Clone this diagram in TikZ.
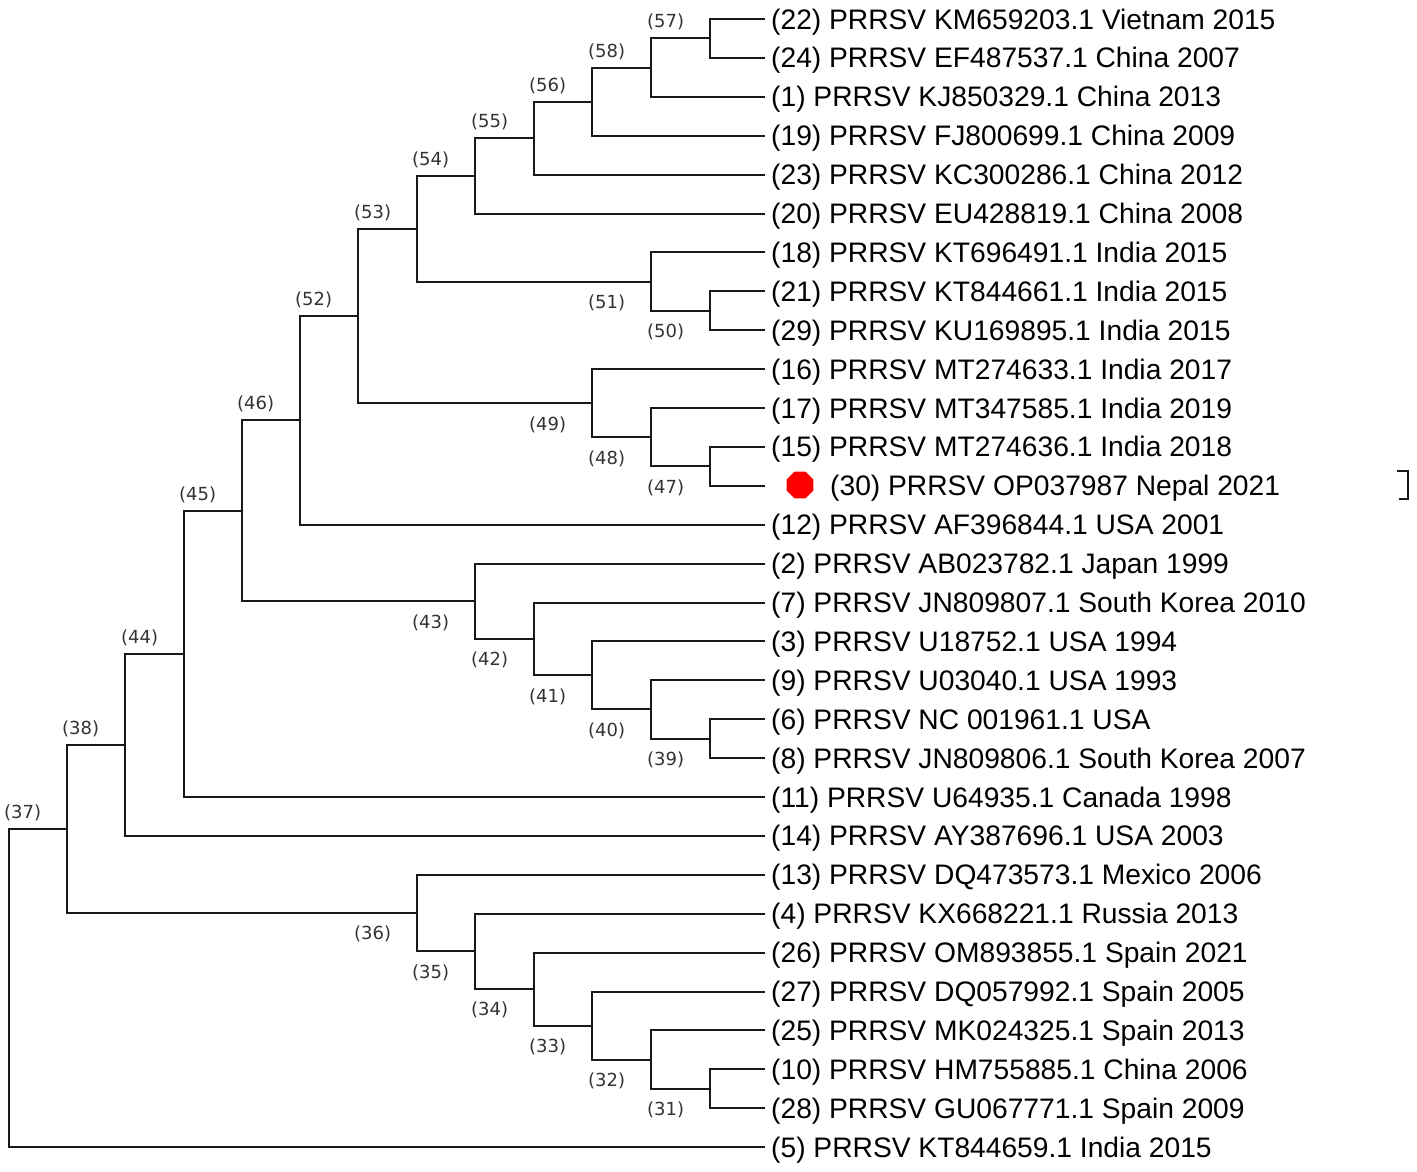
\documentclass[tikz,border=0pt]{standalone}
\usepackage{fontspec}
\setmainfont{Liberation Sans}
\newfontfamily\lblfont{DejaVu Sans}
\usetikzlibrary{shapes.geometric}
\begin{document}
\begin{tikzpicture}[x=1pt,y=-1pt,
  branch/.style={line width=2pt, draw=black!90, line join=miter},
  leaf/.style={anchor=west, inner xsep=6pt, inner ysep=0pt, text height=20pt, text depth=0pt, font=\fontsize{28.2}{30}\selectfont},
  clab/.style={inner sep=0pt, font=\lblfont\fontsize{18}{20}\selectfont, text=black!80},
  up/.style={clab, anchor=south west, xshift=-63pt, yshift=8pt},
  dn/.style={clab, anchor=north west, xshift=-63pt, yshift=-13pt}]
\useasboundingbox (0,0) rectangle (1417,1171);
% leaves
\foreach \i/\t in {
  1/{(22) PRRSV KM659203.1 Vietnam 2015},
  2/{(24) PRRSV EF487537.1 China 2007},
  3/{(1) PRRSV KJ850329.1 China 2013},
  4/{(19) PRRSV FJ800699.1 China 2009},
  5/{(23) PRRSV KC300286.1 China 2012},
  6/{(20) PRRSV EU428819.1 China 2008},
  7/{(18) PRRSV KT696491.1 India 2015},
  8/{(21) PRRSV KT844661.1 India 2015},
  9/{(29) PRRSV KU169895.1 India 2015},
  10/{(16) PRRSV MT274633.1 India 2017},
  11/{(17) PRRSV MT347585.1 India 2019},
  12/{(15) PRRSV MT274636.1 India 2018},
  14/{(12) PRRSV AF396844.1 USA 2001},
  15/{(2) PRRSV AB023782.1 Japan 1999},
  16/{(7) PRRSV JN809807.1 South Korea 2010},
  17/{(3) PRRSV U18752.1 USA 1994},
  18/{(9) PRRSV U03040.1 USA 1993},
  19/{(6) PRRSV NC 001961.1 USA},
  20/{(8) PRRSV JN809806.1 South Korea 2007},
  21/{(11) PRRSV U64935.1 Canada 1998},
  22/{(14) PRRSV AY387696.1 USA 2003},
  23/{(13) PRRSV DQ473573.1 Mexico 2006},
  24/{(4) PRRSV KX668221.1 Russia 2013},
  25/{(26) PRRSV OM893855.1 Spain 2021},
  26/{(27) PRRSV DQ057992.1 Spain 2005},
  27/{(25) PRRSV MK024325.1 Spain 2013},
  28/{(10) PRRSV HM755885.1 China 2006},
  29/{(28) PRRSV GU067771.1 Spain 2009},
  30/{(5) PRRSV KT844659.1 India 2015}}
  \node[leaf] (t\i) at (765,{19+(\i-1)*38.9}) {\t};
\coordinate (e13) at (765,485.8);
\node[regular polygon, regular polygon sides=8, fill=red, draw=none, minimum size=29pt, inner sep=0pt] (dot) at (800,485) {};
\node[leaf] (t13) at (824,485.8) {(30) PRRSV OP037987 Nepal 2021};
% internal nodes
\coordinate (n57) at (710,38.45);
\coordinate (n58) at (651,67.63);
\coordinate (n56) at (592,101.66);
\coordinate (n55) at (534,138.13);
\coordinate (n54) at (475,175.82);
\coordinate (n51) at (651,281.58);
\coordinate (n50) at (710,310.75);
\coordinate (n53) at (417,228.7);
\coordinate (n47) at (710,466.35);
\coordinate (n48) at (651,437.18);
\coordinate (n49) at (592,403.14);
\coordinate (n52) at (358,315.92);
\coordinate (n46) at (300,420.31);
\coordinate (n39) at (710,738.65);
\coordinate (n40) at (651,709.48);
\coordinate (n41) at (592,675.44);
\coordinate (n42) at (534,638.97);
\coordinate (n43) at (475,601.29);
\coordinate (n45) at (242,510.8);
\coordinate (n44) at (184,653.9);
\coordinate (n38) at (125,744.9);
\coordinate (n31) at (710,1088.75);
\coordinate (n32) at (651,1059.58);
\coordinate (n33) at (592,1025.54);
\coordinate (n34) at (534,989.07);
\coordinate (n35) at (475,951.39);
\coordinate (n36) at (417,913.1);
\coordinate (n37) at (67,829);
\coordinate (root) at (9,988.05);
% branches
\draw[branch] (t1) -| (n57) |- (t2);
\draw[branch] (n57) -| (n58) |- (t3);
\draw[branch] (n58) -| (n56) |- (t4);
\draw[branch] (n56) -| (n55) |- (t5);
\draw[branch] (n55) -| (n54) |- (t6);
\draw[branch] (t8) -| (n50) |- (t9);
\draw[branch] (t7) -| (n51) |- (n50);
\draw[branch] (n54) -| (n53) |- (n51);
\draw[branch] (t12) -| (n47) |- (e13);
\draw[branch] (t11) -| (n48) |- (n47);
\draw[branch] (t10) -| (n49) |- (n48);
\draw[branch] (n53) -| (n52) |- (n49);
\draw[branch] (n52) -| (n46) |- (t14);
\draw[branch] (t19) -| (n39) |- (t20);
\draw[branch] (t18) -| (n40) |- (n39);
\draw[branch] (t17) -| (n41) |- (n40);
\draw[branch] (t16) -| (n42) |- (n41);
\draw[branch] (t15) -| (n43) |- (n42);
\draw[branch] (n46) -| (n45) |- (n43);
\draw[branch] (n45) -| (n44) |- (t21);
\draw[branch] (n44) -| (n38) |- (t22);
\draw[branch] (t28) -| (n31) |- (t29);
\draw[branch] (t27) -| (n32) |- (n31);
\draw[branch] (t26) -| (n33) |- (n32);
\draw[branch] (t25) -| (n34) |- (n33);
\draw[branch] (t24) -| (n35) |- (n34);
\draw[branch] (t23) -| (n36) |- (n35);
\draw[branch] (n38) -| (n37) |- (n36);
\draw[branch] (n37) -| (root) |- (t30);
% node labels
\foreach \n in {57,58,56,55,54,53,52,46,45,44,38,37}
  \node[up] (l\n) at (n\n) {(\n)};
\foreach \n in {51,50,49,48,47,43,42,41,40,39,36,35,34,33,32,31}
  \node[dn] (l\n) at (n\n) {(\n)};
% bracket
\draw[line width=2.5pt, draw=black!90] (1397,471) -- (1408,471) -- (1408,499) -- (1399,499);
\end{tikzpicture}
\end{document}
